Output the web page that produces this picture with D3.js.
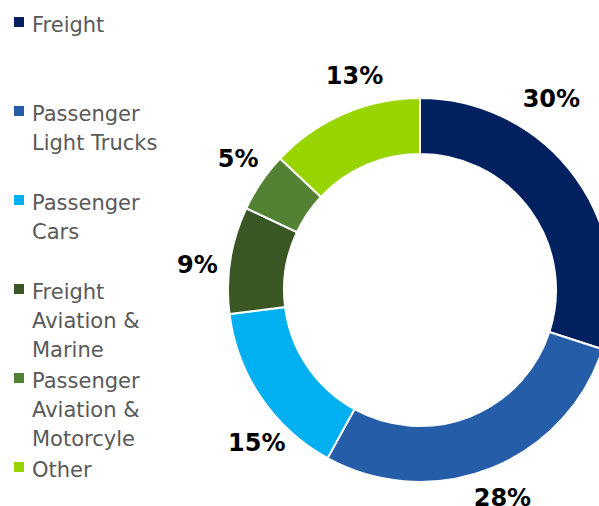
<!DOCTYPE html>
<html>
<head>
<meta charset="utf-8">
<script src="https://cdn.jsdelivr.net/npm/d3@7"></script>
<style>
  body { margin: 0; background: #fff; }
  svg { display: block; }
</style>
</head>
<body>
<div id="chart"></div>
<script>
// chart data
const categories = ['Freight', 'Passenger Light Trucks', 'Passenger Cars',
  'Freight Aviation & Marine', 'Passenger Aviation & Motorcyle', 'Other']
const legendLines = [['Freight'], ['Passenger', 'Light Trucks'], ['Passenger', 'Cars'],
  ['Freight', 'Aviation &', 'Marine'], ['Passenger', 'Aviation &', 'Motorcyle'], ['Other']]
const shares = [30, 28, 15, 9, 5, 13]
const colors = ['#00205f', '#255da8', '#00b0f0', '#3a5623', '#548235', '#98d500']

// layout
const width = 599
const height = 506
const cx = 420, cy = 290
const outerR = 192, innerR = 136
const labelR = 224
// excel shifts some data labels away from the slice middle (degrees)
const labelNudge = [-19.5, 0, -9, -2.5, 1.5, 6.4]

const svg = d3.select('#chart').append('svg')
  .attr('width', width)
  .attr('height', height)

const pie = d3.pie().sort(null).value(d => d)
const arcs = pie(shares)

const arc = d3.arc().innerRadius(innerR).outerRadius(outerR)

const g = svg.append('g').attr('transform', `translate(${cx},${cy})`)

g.selectAll('path')
  .data(arcs)
  .enter()
  .append('path')
  .attr('d', arc)
  .attr('fill', (d, i) => colors[i])
  .attr('stroke', '#fff')
  .attr('stroke-width', 2)

const labelAngle = (d, i) => (d.startAngle + d.endAngle) / 2 + labelNudge[i] * Math.PI / 180
const labelDist = i => i === 0 ? labelR + 8 : labelR

g.selectAll('text.pct')
  .data(arcs)
  .enter()
  .append('text')
  .attr('class', 'pct')
  .attr('x', (d, i) => labelDist(i) * Math.sin(labelAngle(d, i)))
  .attr('y', (d, i) => -labelDist(i) * Math.cos(labelAngle(d, i)))
  .attr('text-anchor', 'middle')
  .attr('dominant-baseline', 'central')
  .attr('font-family', 'Verdana, "DejaVu Sans", sans-serif')
  .attr('font-weight', 'bold')
  .attr('font-size', 24)
  .attr('fill', '#000')
  .text(d => d.data + '%')

// legend
const legendTop = 32
const legendStep = 89
const lineH = 29

const legend = svg.selectAll('g.legend')
  .data(categories)
  .enter()
  .append('g')
  .attr('class', 'legend')
  .attr('transform', (d, i) => `translate(0,${legendTop + i * legendStep})`)

legend.append('rect')
  .attr('x', 14)
  .attr('y', -15)
  .attr('width', 10)
  .attr('height', 10)
  .attr('fill', (d, i) => colors[i])

legend.append('text')
  .attr('x', 32)
  .attr('y', 0)
  .attr('font-family', 'Verdana, "DejaVu Sans", sans-serif')
  .attr('font-size', 21)
  .attr('fill', '#595959')
  .selectAll('tspan')
  .data((d, i) => legendLines[i])
  .enter()
  .append('tspan')
  .attr('x', 32)
  .attr('dy', (d, j) => j === 0 ? 0 : lineH)
  .text(d => d)
</script>
</body>
</html>
